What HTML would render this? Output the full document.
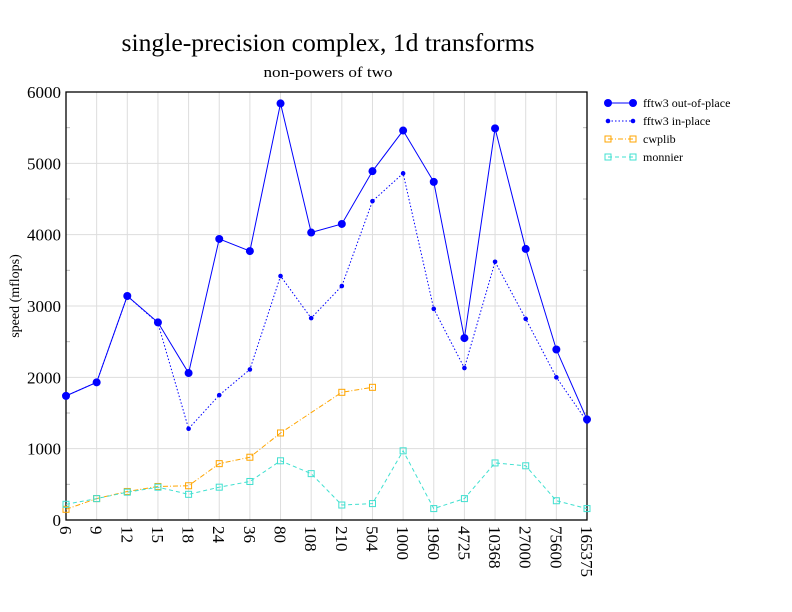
<!DOCTYPE html>
<html><head><meta charset="utf-8"><style>body{margin:0;background:#fff}svg{display:block}</style></head><body>
<svg id="s" width="792" height="612" xmlns="http://www.w3.org/2000/svg" font-family="Liberation Serif, serif">
<text x="328" y="51" font-size="25" text-anchor="middle" textLength="413" lengthAdjust="spacingAndGlyphs">single-precision complex, 1d transforms</text>
<text x="328" y="77" font-size="15" text-anchor="middle" textLength="129" lengthAdjust="spacingAndGlyphs">non-powers of two</text>
<text transform="translate(19,296) rotate(-90)" font-size="14" text-anchor="middle">speed (mflops)</text>
<g id="g"></g>
</svg>
<script>
const NS="http://www.w3.org/2000/svg",g=document.getElementById('g');
function el(t,a,txt){const e=document.createElementNS(NS,t);for(const k in a)e.setAttribute(k,a[k]);if(txt!==undefined)e.textContent=txt;g.appendChild(e);return e;}
const L=66,R=587,T=92,B=520;
const labs=["6","9","12","15","18","24","36","80","108","210","504","1000","1960","4725","10368","27000","75600","165375"];
const X=i=>L+i*(R-L)/17, Y=v=>B-v*(B-T)/6000;
for(let i=0;i<18;i++){el('line',{x1:X(i),x2:X(i),y1:T,y2:B,stroke:'#ddd'});
 el('text',{transform:`translate(${X(i)-6},526) rotate(90)`,'font-size':17},labs[i]);}
for(let v=0;v<=6000;v+=1000){el('line',{x1:L,x2:R,y1:Y(v),y2:Y(v),stroke:'#ddd'});
 el('text',{x:L-5,y:Y(v)+6,'font-size':17,'text-anchor':'end'},String(v));}
for(let v=500;v<6000;v+=1000){el('line',{x1:L,x2:L+4,y1:Y(v),y2:Y(v),stroke:'#bbb'});el('line',{x1:R-4,x2:R,y1:Y(v),y2:Y(v),stroke:'#bbb'});}
el('rect',{x:L,y:T,width:R-L,height:B-T,fill:'none',stroke:'#000','stroke-width':1.3});
function series(d,col,dash,mk,idx){const pts=[];d.forEach((v,i)=>{if(v!=null)pts.push([X(idx?idx[i]:i),Y(v)])});
 el('polyline',{points:pts.map(p=>p.join(',')).join(' '),fill:'none',stroke:col,'stroke-dasharray':dash});
 pts.forEach(p=>mk(p[0],p[1]));}
const dot=r=>(x,y)=>el('circle',{cx:x,cy:y,r:r,fill:'#00f'});
const sq=c=>(x,y)=>el('rect',{x:x-3,y:y-3,width:6,height:6,fill:'none',stroke:c});
series([1740,1930,3140,2770,2060,3940,3770,5840,4030,4150,4890,5460,4740,2550,5490,3800,2390,1410],'#00f','',dot(4));
series([1740,1930,3140,2760,1280,1750,2110,3420,2830,3280,4470,4860,2960,2130,3620,2820,2000,1380],'#00f','1.5,2',dot(2.3));
series([150,300,400,470,480,790,880,1220,1790,1860],'#ffa500','5,2,1,2',sq('#ffa500'),[0,1,2,3,4,5,6,7,9,10]);
series([220,300,390,460,360,460,540,830,650,210,230,970,160,300,800,760,270,160],'#40e0d0','4,3',sq('#40e0d0'));
const leg=[['fftw3 out-of-place','#00f','',dot(4),122],['fftw3 in-place','#00f','1.5,2',dot(2.3),72],['cwplib','#ffa500','5,2,1,2',sq('#ffa500'),35],['monnier','#40e0d0','4,3',sq('#40e0d0'),42]];
leg.forEach((l,i)=>{const y=103+i*18;el('line',{x1:608,x2:633,y1:y,y2:y,stroke:l[1],'stroke-dasharray':l[2]});l[3](608,y);l[3](633,y);
 el('text',{x:643,y:y+4,'font-size':12},l[0]);});
</script>
</body></html>
